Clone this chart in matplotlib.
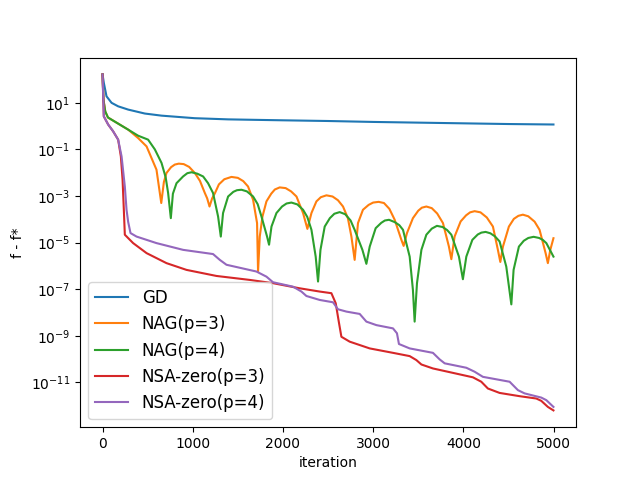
import numpy as np
import matplotlib
matplotlib.use("Agg")
import matplotlib.pyplot as plt

# values; gaps stored as log10(f - f*)
gd_it = [0, 14, 44, 100, 173, 284, 469, 654, 1023, 1392, 1688, 2000, 2500,
         3000, 3500, 4000, 4500, 4999]
gd_log = [2.22, 1.86, 1.28, 1.00, 0.85, 0.71, 0.54, 0.45, 0.34, 0.29, 0.27,
          0.25, 0.22, 0.18, 0.15, 0.12, 0.09, 0.07]

nag3_it = [0, 10, 30, 60, 284, 394, 488, 598, 651, 680, 709, 760, 801, 845,
           900, 960, 1023, 1080, 1134, 1160, 1186, 1215, 1247, 1290, 1350,
           1429, 1500, 1560, 1613, 1669, 1713, 1724, 1743, 1773, 1817, 1870,
           1910, 1964, 2030, 2090, 2150, 2223, 2271, 2316, 2371, 2420, 2482,
           2550, 2610, 2666, 2720, 2759, 2795, 2832, 2887, 2950, 3000, 3061,
           3120, 3180, 3239, 3313, 3338, 3375, 3441, 3500, 3540, 3590, 3650,
           3710, 3774, 3840, 3867, 3903, 3970, 4030, 4075, 4125, 4190, 4260,
           4328, 4383, 4410, 4439, 4505, 4560, 4610, 4660, 4720, 4790, 4845,
           4912, 4937, 4964, 4999]
nag3_log = [2.22, 1.14, 0.63, 0.37, -0.15, -0.51, -0.87, -1.87, -3.30, -2.40,
            -2.01, -1.76, -1.65, -1.61, -1.63, -1.75, -2.01, -2.35, -2.87,
            -3.10, -3.45, -3.10, -2.87, -2.50, -2.28, -2.18, -2.22, -2.36,
            -2.59, -3.16, -4.16, -6.24, -4.74, -3.88, -3.23, -2.90, -2.72,
            -2.63, -2.66, -2.80, -3.02, -3.73, -4.41, -3.73, -3.23, -3.05,
            -2.97, -3.02, -3.18, -3.45, -3.95, -4.74, -5.74, -4.16, -3.59,
            -3.38, -3.28, -3.25, -3.30, -3.55, -4.02, -4.88, -5.14, -4.59,
            -3.95, -3.63, -3.50, -3.45, -3.52, -3.75, -4.16, -5.17, -5.71,
            -4.74, -4.09, -3.83, -3.70, -3.65, -3.70, -3.92, -4.31, -5.31,
            -5.83, -5.17, -4.31, -3.98, -3.85, -3.80, -3.87, -4.10, -4.45,
            -5.45, -5.88, -5.31, -4.81]

nag4_it = [0, 10, 30, 60, 284, 394, 505, 580, 654, 700, 727, 757, 780, 820,
           893, 940, 986, 1050, 1115, 1170, 1225, 1281, 1311, 1336, 1392, 1450,
           1490, 1540, 1600, 1669, 1720, 1762, 1824, 1846, 1873, 1928, 1990,
           2040, 2094, 2160, 2223, 2270, 2316, 2363, 2389, 2416, 2463, 2520,
           2570, 2629, 2690, 2750, 2795, 2881, 2925, 2962, 3028, 3090, 3130,
           3176, 3240, 3290, 3331, 3405, 3441, 3460, 3486, 3535, 3590, 3650,
           3707, 3770, 3820, 3867, 3951, 3995, 4033, 4100, 4160, 4200, 4247,
           4300, 4350, 4402, 4476, 4532, 4557, 4616, 4670, 4720, 4779, 4840,
           4880, 4920, 4999]
nag4_log = [2.22, 1.14, 0.63, 0.37, -0.15, -0.41, -0.58, -1.00, -1.58, -2.20,
            -2.87, -3.95, -2.90, -2.45, -2.16, -2.02, -1.98, -2.04, -2.16,
            -2.45, -2.87, -3.88, -4.74, -3.73, -3.02, -2.82, -2.75, -2.73,
            -2.80, -3.02, -3.35, -3.88, -4.74, -5.09, -4.31, -3.73, -3.45,
            -3.32, -3.28, -3.36, -3.59, -3.90, -4.45, -5.60, -6.67, -5.31,
            -4.31, -3.95, -3.76, -3.69, -3.78, -4.05, -4.45, -5.31, -5.91,
            -5.17, -4.38, -4.15, -4.05, -4.02, -4.12, -4.25, -4.45, -5.60,
            -7.03, -8.39, -6.74, -5.31, -4.66, -4.40, -4.28, -4.33, -4.46,
            -4.66, -5.60, -6.57, -5.60, -4.88, -4.65, -4.57, -4.54, -4.60,
            -4.73, -4.95, -6.03, -7.65, -6.17, -5.17, -4.92, -4.80, -4.75,
            -4.80, -4.88, -5.02, -5.60]

nsa3_it = [0, 14, 62, 117, 173, 203, 222, 236, 247, 339, 488, 709, 931, 1263,
           1632, 1890, 2186, 2408, 2537, 2585, 2622, 2648, 2740, 2962, 3220,
           3405, 3479, 3535, 3663, 3885, 4106, 4199, 4272, 4402, 4624, 4809,
           4864, 4937, 4999]
nsa3_log = [2.22, 0.42, 0.07, -0.22, -0.58, -1.30, -2.30, -3.59, -4.66, -5.02,
            -5.45, -5.88, -6.17, -6.43, -6.60, -6.74, -6.96, -7.10, -7.17,
            -7.60, -8.46, -9.04, -9.25, -9.54, -9.73, -9.87, -10.04, -10.23,
            -10.40, -10.59, -10.78, -10.97, -11.26, -11.45, -11.59, -11.69,
            -11.79, -12.05, -12.20]

nsa4_it = [0, 14, 62, 117, 173, 211, 247, 266, 284, 310, 377, 598, 893, 1225,
           1300, 1374, 1706, 1817, 1890, 2112, 2205, 2260, 2408, 2555, 2610,
           2704, 2851, 2925, 3036, 3220, 3264, 3286, 3405, 3663, 3737, 3793,
           4033, 4125, 4217, 4513, 4605, 4679, 4864, 4920, 4999]
nsa4_log = [2.22, 0.42, 0.07, -0.22, -0.58, -1.30, -2.59, -3.59, -4.11, -4.59,
            -4.74, -5.02, -5.31, -5.49, -5.74, -5.95, -6.24, -6.46, -6.70,
            -6.89, -7.10, -7.29, -7.46, -7.56, -7.86, -7.96, -8.06, -8.39,
            -8.54, -8.68, -8.89, -9.35, -9.54, -9.73, -10.01, -10.18, -10.37,
            -10.54, -10.76, -10.97, -11.33, -11.47, -11.65, -11.76, -12.05]

series = [
    ("GD", gd_it, gd_log),
    ("NAG(p=3)", nag3_it, nag3_log),
    ("NAG(p=4)", nag4_it, nag4_log),
    ("NSA-zero(p=3)", nsa3_it, nsa3_log),
    ("NSA-zero(p=4)", nsa4_it, nsa4_log),
]

fig, ax = plt.subplots(figsize=(6.4, 4.8), dpi=100)
for name, it, lg in series:
    ax.plot(it, 10.0 ** np.array(lg), label=name)
ax.set_yscale("log")
ax.set_xlabel("iteration")
ax.set_ylabel("f - f*")
ax.legend(loc="lower left", fontsize="large")
fig.savefig("out.png")
plt.close(fig)
